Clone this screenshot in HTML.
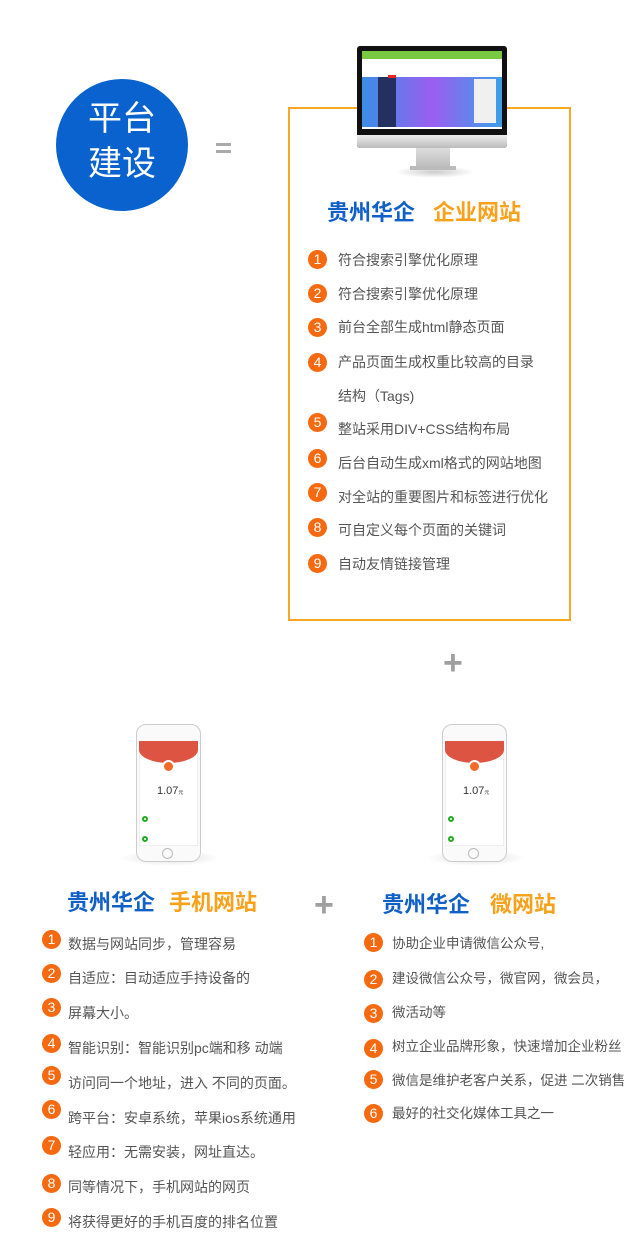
<!DOCTYPE html>
<html><head><meta charset="utf-8"><style>
*{margin:0;padding:0;box-sizing:border-box}
body{width:640px;height:1256px;background:#fff;position:relative;overflow:hidden;font-family:"Liberation Sans","Noto Sans CJK SC",sans-serif}
.a{position:absolute}
.b{position:absolute;width:19px;height:19px;border-radius:50%;background:#f56a10;color:#fff;font-size:14px;line-height:19px;text-align:center;font-family:"Liberation Sans",sans-serif}
.t{position:absolute;font-size:14px;color:#555;white-space:nowrap;line-height:18px}
.r{font-size:13.5px}
.tt{position:absolute;font-size:22px;font-weight:bold;white-space:nowrap;line-height:28px}
.blue{color:#1060c8}.or{color:#f9a11b}
.plus{position:absolute;color:#a0a0a0;font-size:34px;font-weight:bold;line-height:34px}
</style></head><body>
<div class="a" style="left:56px;top:79px;width:132px;height:132px;border-radius:50%;background:#0a62cf"></div>
<div class="a" style="left:56px;top:97px;width:132px;text-align:center;color:#fff;font-size:34px;line-height:45px">平台<br>建设</div>
<div class="a" style="left:216px;top:143px;width:15px;height:3px;background:#aaa"></div>
<div class="a" style="left:216px;top:150px;width:15px;height:3px;background:#aaa"></div>

<div class="a" style="left:288px;top:107px;width:283px;height:514px;border:2px solid #f9a825"></div>
<!-- monitor -->
<div class="a" style="left:395px;top:166px;width:80px;height:12px;border-radius:50%;background:radial-gradient(#ccc,#fff 70%)"></div>
<div class="a" style="left:416px;top:148px;width:34px;height:20px;background:linear-gradient(#ddd,#bbb)"></div>
<div class="a" style="left:410px;top:166px;width:46px;height:4px;background:#bbb"></div>
<div class="a" style="left:357px;top:46px;width:150px;height:102px;background:#111;border-radius:3px"></div>
<div class="a" style="left:357px;top:135px;width:150px;height:13px;background:linear-gradient(#eee,#bbb);border-radius:0 0 3px 3px"></div>
<div class="a" style="left:362px;top:51px;width:140px;height:78px;background:#fff"></div>
<div class="a" style="left:362px;top:51px;width:140px;height:8px;background:#7ac943"></div>
<div class="a" style="left:362px;top:77px;width:140px;height:50px;background:linear-gradient(90deg,#3a8ee6,#9a5ef0 50%,#3aa0e8)"></div>
<div class="a" style="left:378px;top:77px;width:18px;height:50px;background:#243060"></div>
<div class="a" style="left:474px;top:79px;width:22px;height:44px;background:#f0f0f0"></div>
<div class="a" style="left:388px;top:75px;width:8px;height:3px;background:#e22"></div>

<div class="tt blue" style="left:327px;top:199px">贵州华企</div>
<div class="tt or" style="left:433px;top:199px">企业网站</div>

<div class="b" style="left:308px;top:250px">1</div><div class="t" style="left:338px;top:251px">符合搜索引擎优化原理</div>
<div class="b" style="left:308px;top:284px">2</div><div class="t" style="left:338px;top:285px">符合搜索引擎优化原理</div>
<div class="b" style="left:308px;top:318px">3</div><div class="t" style="left:338px;top:318px">前台全部生成html静态页面</div>
<div class="b" style="left:308px;top:353px">4</div><div class="t" style="left:338px;top:353px">产品页面生成权重比较高的目录</div>
<div class="t" style="left:338px;top:387px">结构（Tags)</div>
<div class="b" style="left:308px;top:413px">5</div><div class="t" style="left:338px;top:420px">整站采用DIV+CSS结构布局</div>
<div class="b" style="left:308px;top:449px">6</div><div class="t" style="left:338px;top:454px">后台自动生成xml格式的网站地图</div>
<div class="b" style="left:308px;top:483px">7</div><div class="t" style="left:338px;top:488px">对全站的重要图片和标签进行优化</div>
<div class="b" style="left:308px;top:518px">8</div><div class="t" style="left:338px;top:521px">可自定义每个页面的关键词</div>
<div class="b" style="left:308px;top:554px">9</div><div class="t" style="left:338px;top:555px">自动友情链接管理</div>

<div class="plus" style="left:443px;top:646px">+</div>

<!-- phones -->
<div class="a" style="left:120px;top:850px;width:100px;height:16px;border-radius:50%;background:radial-gradient(#ddd,#fff 70%)"></div>
<div class="a" style="left:136px;top:724px;width:65px;height:138px;border:1px solid #ccc;border-radius:10px;background:#fafafa"></div>
<div class="a" style="left:139px;top:741px;width:59px;height:105px;background:#fff;border:1px solid #eee"></div>
<div class="a" style="left:139px;top:741px;width:59px;height:22px;background:#dd5443;border-radius:0 0 50% 50%/0 0 60% 60%"></div>
<div class="a" style="left:162px;top:760px;width:13px;height:13px;border-radius:50%;background:#f26b2a;border:2px solid #fff"></div>
<div class="a" style="left:157px;top:785px;font-size:11px;color:#333">1.07<span style="font-size:5px">元</span></div>
<div class="a" style="left:142px;top:816px;width:6px;height:6px;border-radius:50%;border:2px solid #2a2"></div>
<div class="a" style="left:142px;top:836px;width:6px;height:6px;border-radius:50%;border:2px solid #2a2"></div>
<div class="a" style="left:162px;top:848px;width:11px;height:11px;border-radius:50%;border:1px solid #bbb"></div>

<div class="a" style="left:426px;top:850px;width:100px;height:16px;border-radius:50%;background:radial-gradient(#ddd,#fff 70%)"></div>
<div class="a" style="left:442px;top:724px;width:65px;height:138px;border:1px solid #ccc;border-radius:10px;background:#fafafa"></div>
<div class="a" style="left:445px;top:741px;width:59px;height:105px;background:#fff;border:1px solid #eee"></div>
<div class="a" style="left:445px;top:741px;width:59px;height:22px;background:#dd5443;border-radius:0 0 50% 50%/0 0 60% 60%"></div>
<div class="a" style="left:468px;top:760px;width:13px;height:13px;border-radius:50%;background:#f26b2a;border:2px solid #fff"></div>
<div class="a" style="left:463px;top:785px;font-size:11px;color:#333">1.07<span style="font-size:5px">元</span></div>
<div class="a" style="left:448px;top:816px;width:6px;height:6px;border-radius:50%;border:2px solid #2a2"></div>
<div class="a" style="left:448px;top:836px;width:6px;height:6px;border-radius:50%;border:2px solid #2a2"></div>
<div class="a" style="left:468px;top:848px;width:11px;height:11px;border-radius:50%;border:1px solid #bbb"></div>

<div class="tt blue" style="left:67px;top:889px">贵州华企</div>
<div class="tt or" style="left:169px;top:889px">手机网站</div>
<div class="plus" style="left:314px;top:888px">+</div>
<div class="tt blue" style="left:382px;top:891px">贵州华企</div>
<div class="tt or" style="left:490px;top:891px">微网站</div>

<div class="b" style="left:42px;top:930px">1</div><div class="t" style="left:68px;top:935px">数据与网站同步，管理容易</div>
<div class="b" style="left:42px;top:964px">2</div><div class="t" style="left:68px;top:969px">自适应：目动适应手持设备的</div>
<div class="b" style="left:42px;top:998px">3</div><div class="t" style="left:68px;top:1004px">屏幕大小。</div>
<div class="b" style="left:42px;top:1034px">4</div><div class="t" style="left:68px;top:1039px">智能识别：智能识别pc端和移 动端</div>
<div class="b" style="left:42px;top:1066px">5</div><div class="t" style="left:68px;top:1074px">访问同一个地址，进入 不同的页面。</div>
<div class="b" style="left:42px;top:1100px">6</div><div class="t" style="left:68px;top:1109px">跨平台：安卓系统，苹果ios系统通用</div>
<div class="b" style="left:42px;top:1136px">7</div><div class="t" style="left:68px;top:1143px">轻应用：无需安装，网址直达。</div>
<div class="b" style="left:42px;top:1174px">8</div><div class="t" style="left:68px;top:1178px">同等情况下，手机网站的网页</div>
<div class="b" style="left:42px;top:1208px">9</div><div class="t" style="left:68px;top:1213px">将获得更好的手机百度的排名位置</div>

<div class="b" style="left:364px;top:933px">1</div><div class="t r" style="left:392px;top:935px">协助企业申请微信公众号,</div>
<div class="b" style="left:364px;top:970px">2</div><div class="t r" style="left:392px;top:970px">建设微信公众号，微官网，微会员，</div>
<div class="b" style="left:364px;top:1004px">3</div><div class="t r" style="left:392px;top:1004px">微活动等</div>
<div class="b" style="left:364px;top:1039px">4</div><div class="t r" style="left:392px;top:1038px">树立企业品牌形象，快速增加企业粉丝</div>
<div class="b" style="left:364px;top:1070px">5</div><div class="t r" style="left:392px;top:1072px">微信是维护老客户关系，促进 二次销售</div>
<div class="b" style="left:364px;top:1104px">6</div><div class="t r" style="left:392px;top:1105px">最好的社交化媒体工具之一</div>
</body></html>
